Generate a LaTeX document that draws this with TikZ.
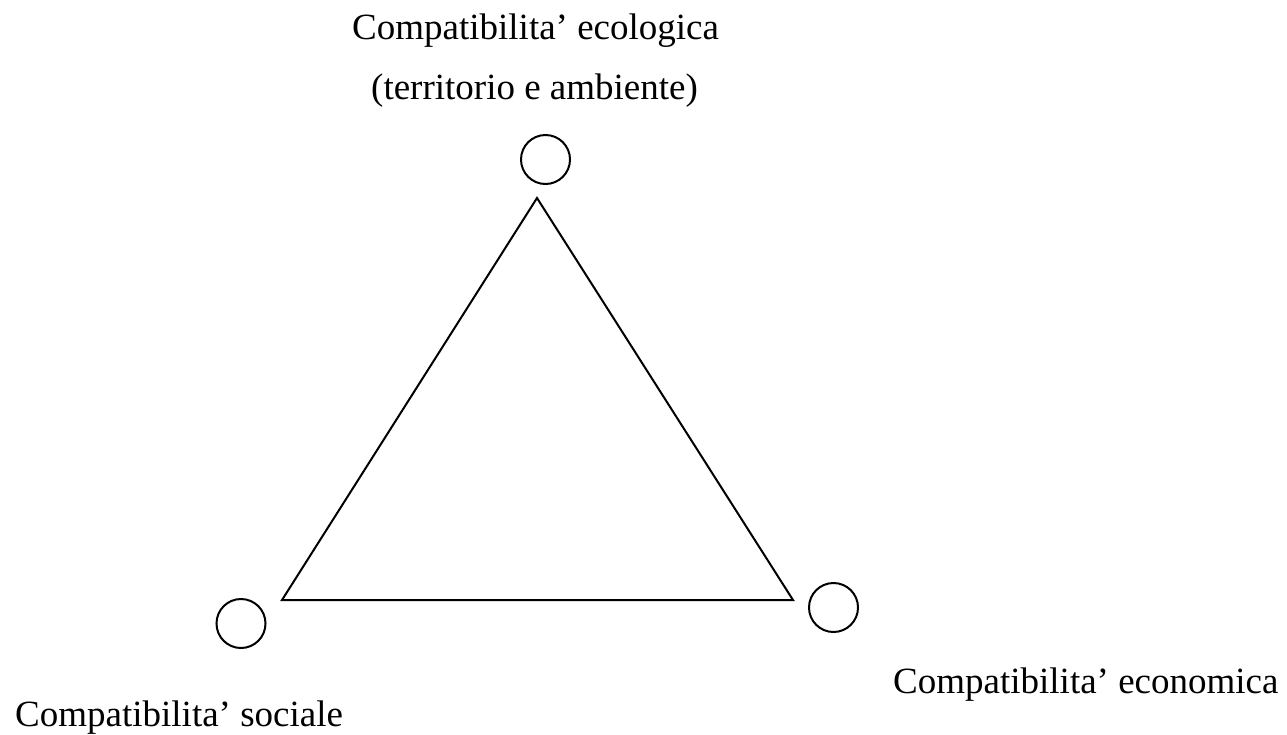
\documentclass[tikz,border=0pt]{standalone}
\usepackage{fontspec}
\setmainfont{Liberation Serif}
\begin{document}
\begin{tikzpicture}[x=1pt,y=-1pt,
  lbl/.style={anchor=base west,inner sep=0pt,font=\fontsize{37}{44}\selectfont},
  vert/.style={circle,draw,line width=2pt,minimum size=49pt,inner sep=0pt},
  edge/.style={line width=2pt}]
\useasboundingbox (0,0) rectangle (1287,734);
\node[vert] (ctop) at (545.5,159.5) {};
\node[vert] (cleft) at (241,623.5) {};
\node[vert] (cright) at (833.5,607.5) {};
\coordinate (vt) at (537,198);
\coordinate (vl) at (282,600);
\coordinate (vr) at (793,600);
\draw[edge,line join=miter] (vt) -- (vl) -- (vr) -- cycle;
\node[lbl] (teco) at (352,39) {Compatibilita’ ecologica};
\node[lbl] (tterr) at (371,99) {(territorio e ambiente)};
\node[lbl] (tsoc) at (15,726) {Compatibilita’ sociale};
\node[lbl] (tecon) at (893,693) {Compatibilita’ economica};
\end{tikzpicture}
\end{document}
